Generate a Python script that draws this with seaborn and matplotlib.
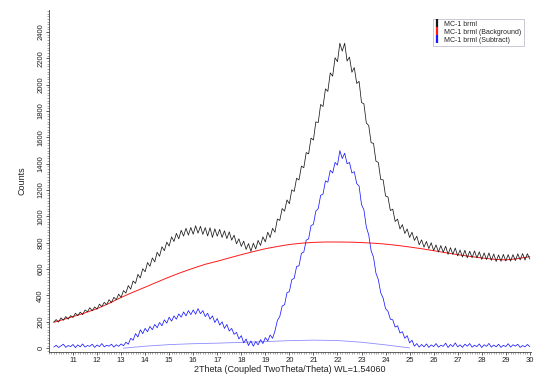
import numpy as np
import pandas as pd
import matplotlib
matplotlib.use("Agg")
import matplotlib.pyplot as plt
from matplotlib.lines import Line2D
from matplotlib.ticker import MultipleLocator
import seaborn as sns

# ---- data ----
x_start = 10.2
x_step = 0.1

raw_counts = [
    198, 217, 198, 230, 212, 240, 220, 247, 233, 265, 247, 274, 254, 290, 276, 307, 284, 313, 296, 334,
    316, 348, 330, 368, 346, 386, 368, 410, 385, 437, 418, 475, 448, 510, 492, 560, 533, 603, 580, 650,
    622, 685, 655, 728, 698, 770, 740, 805, 775, 845, 810, 871, 830, 895, 851, 910, 858, 916, 865, 929,
    873, 925, 864, 915, 852, 914, 841, 906, 850, 902, 841, 891, 832, 883, 820, 858, 792, 830, 773, 813,
    750, 794, 735, 797, 753, 818, 780, 845, 807, 880, 840, 910, 880, 980, 970, 1060, 1040, 1125, 1097, 1202,
    1190, 1290, 1277, 1382, 1370, 1485, 1475, 1595, 1580, 1718, 1713, 1850, 1835, 1968, 1950, 2090, 2065, 2205, 2175, 2315,
    2255, 2315, 2180, 2210, 2095, 2130, 2010, 2025, 1865, 1855, 1710, 1690, 1560, 1555, 1420, 1410, 1280, 1278, 1155, 1148,
    1045, 1055, 962, 980, 905, 938, 871, 905, 840, 880, 818, 850, 785, 822, 767, 810, 756, 800, 741, 784,
    730, 779, 728, 774, 712, 763, 712, 760, 701, 745, 692, 743, 686, 736, 687, 738, 686, 731, 674, 723,
    673, 723, 667, 715, 658, 708, 660, 712, 662, 710, 661, 710, 665, 716, 670, 718, 669, 717, 676,
]

subtract_counts = [
    8, 22, 5, 18, 30, 6, 20, 12, 28, 4, 25, 10, 32, 8, 20, 14, 30, 6, 24, 12,
    35, 10, 22, 15, 30, 8, 26, 14, 32, 18, 45, 30, 75, 60, 110, 85, 140, 110, 150, 125,
    165, 140, 180, 155, 195, 170, 215, 190, 235, 205, 245, 220, 260, 235, 275, 245, 285, 255, 290, 258,
    300, 262, 285, 240, 265, 220, 245, 195, 225, 175, 200, 150, 180, 130, 150, 105, 120, 70, 95, 40,
    70, 20, 55, 15, 50, 25, 65, 35, 80, 55, 100, 75, 130, 210, 240, 320, 330, 420, 430, 520,
    530, 620, 625, 720, 730, 820, 830, 930, 940, 1040, 1060, 1160, 1170, 1270, 1260, 1350, 1330, 1410, 1390, 1500,
    1440, 1480, 1400, 1410, 1330, 1340, 1250, 1230, 1090, 1050, 920, 860, 740, 690, 570, 520, 420, 380, 300, 280,
    220, 215, 160, 170, 115, 125, 75, 95, 40, 60, 15, 35, 8, 28, 10, 32, 6, 25, 12, 35,
    8, 22, 14, 38, 5, 28, 12, 40, 10, 25, 6, 30, 15, 35, 8, 22, 12, 32, 5, 26,
    14, 36, 8, 24, 10, 30, 6, 22, 12, 34, 8, 26, 15, 30, 6, 20, 10, 28, 12,
]

bkg_x = [10.2, 10.5, 11.0, 11.5, 12.0, 12.5, 13.0, 13.5, 14.0, 14.5, 15.0, 15.5, 16.0, 16.5, 17.0, 17.5,
         18.0, 18.5, 19.0, 19.5, 20.0, 20.5, 21.0, 21.5, 22.0, 22.5, 23.0, 23.5, 24.0, 24.5, 25.0, 25.5,
         26.0, 26.5, 27.0, 27.5, 28.0, 28.5, 29.0, 29.5, 30.0]
bkg_counts = [197, 212, 240, 268, 300, 340, 385, 425, 463, 502, 540, 575, 607, 637, 660, 685,
              710, 733, 755, 772, 787, 797, 803, 806, 806, 805, 802, 797, 790, 780, 768, 755,
              740, 725, 710, 697, 685, 675, 670, 680, 695]

sub_bkg_x = [13.1, 14.0, 15.0, 16.0, 17.0, 18.0, 19.0, 20.0, 21.0, 22.0, 23.0, 24.0, 25.0]
sub_bkg_counts = [0, 15, 27, 34, 38, 44, 50, 57, 61, 58, 45, 25, 2]

legend_labels = ["MC-1 brml", "MC-1 brml (Background)", "MC-1 brml (Subtract)"]
x_tick_values = list(range(11, 31))
y_tick_values = list(range(0, 2401, 200))
x_label = "2Theta (Coupled TwoTheta/Theta) WL=1.54060"
y_label = "Counts"

# ---- build tables ----
two_theta = np.round(x_start + x_step * np.arange(len(raw_counts)), 2)
df_raw = pd.DataFrame({"x": two_theta, "y": raw_counts})
df_sub = pd.DataFrame({"x": two_theta[:len(subtract_counts)], "y": subtract_counts})
df_bkg = pd.DataFrame({"x": bkg_x, "y": bkg_counts})
df_sbkg = pd.DataFrame({"x": sub_bkg_x, "y": sub_bkg_counts})

sns.set_style("white")
plt.rcParams["font.family"] = ["Liberation Sans", "DejaVu Sans"]

fig = plt.figure(figsize=(5.38, 3.77), dpi=100)
ax = fig.add_axes([0.091, 0.066, 0.896, 0.907])

c_black = "#1a1a1a"
c_red = "#ff1a1a"
c_blue = "#1a1aff"
c_lblue = "#8c8cff"

sns.lineplot(data=df_sbkg, x="x", y="y", ax=ax, color=c_lblue, lw=0.6, estimator=None, sort=False)
sns.lineplot(data=df_bkg, x="x", y="y", ax=ax, color=c_red, lw=0.7, estimator=None, sort=False)
sns.lineplot(data=df_raw, x="x", y="y", ax=ax, color=c_black, lw=0.55, estimator=None, sort=False)
sns.lineplot(data=df_sub, x="x", y="y", ax=ax, color=c_blue, lw=0.55, estimator=None, sort=False)

ax.set_xlim(10.0, 30.05)
ax.set_ylim(-30, 2566)
ax.set_xticks(x_tick_values)
ax.set_yticks(y_tick_values)
ax.xaxis.set_minor_locator(MultipleLocator(0.1))
ax.yaxis.set_minor_locator(MultipleLocator(20))
ax.tick_params(axis="both", which="both", bottom=True, left=True, top=False, right=False)
ax.tick_params(axis="both", which="major", direction="out", length=2.5, width=0.6,
               labelsize=5.5, color="#444444", labelcolor="#222222", pad=0.8)
ax.tick_params(axis="both", which="minor", direction="out", length=1.5, width=0.4, color="#666666")
for lab in ax.get_yticklabels():
    lab.set_rotation(90)
    lab.set_va("center")

for s in ["top", "right"]:
    ax.spines[s].set_visible(False)
for s in ["left", "bottom"]:
    ax.spines[s].set_linewidth(0.6)
    ax.spines[s].set_color("#444444")

ax.set_xlabel(x_label, fontsize=6.5, color="#222222", labelpad=1)
ax.set_ylabel(y_label, fontsize=6.5, color="#222222", labelpad=8)

handles = [Line2D([], [], color=c, marker="|", markersize=6, markeredgewidth=1.6, linestyle="none")
           for c in [c_black, c_red, c_blue]]
leg = ax.legend(handles, legend_labels, loc="upper right", bbox_to_anchor=(0.985, 0.975),
                fontsize=5.0, frameon=True, fancybox=False, borderpad=0.3, labelspacing=0.15,
                handlelength=0.8, handletextpad=0.6, borderaxespad=0.0)
leg.get_frame().set_edgecolor("#b0b0c0")
leg.get_frame().set_linewidth(0.6)

fig.savefig("out.png", dpi=100)
